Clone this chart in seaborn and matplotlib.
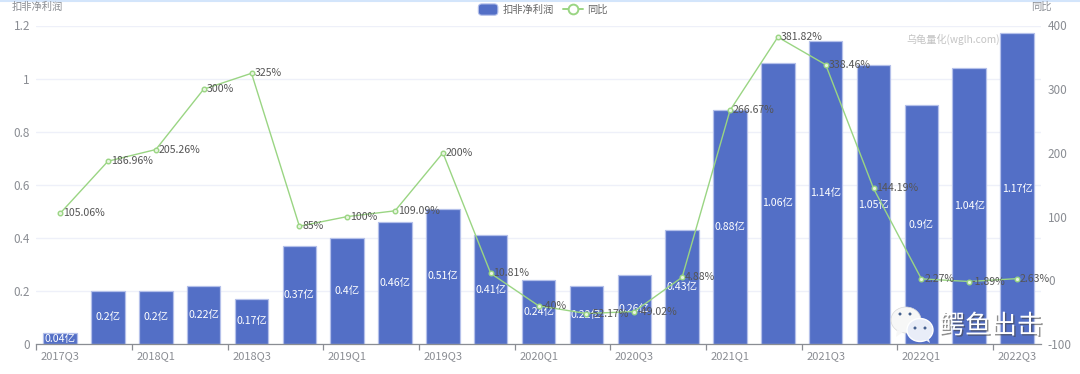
import matplotlib
matplotlib.use("Agg")
import matplotlib.pyplot as plt
import matplotlib.patheffects as pe
from matplotlib.legend_handler import HandlerPatch
from matplotlib.lines import Line2D
from matplotlib.patches import Ellipse, FancyBboxPatch, Patch, Polygon
import pandas as pd
import seaborn as sns

quarters = ["2017Q3", "2017Q4", "2018Q1", "2018Q2", "2018Q3", "2018Q4", "2019Q1",
            "2019Q2", "2019Q3", "2019Q4", "2020Q1", "2020Q2", "2020Q3", "2020Q4",
            "2021Q1", "2021Q2", "2021Q3", "2021Q4", "2022Q1", "2022Q2", "2022Q3"]
profit = [0.04, 0.2, 0.2, 0.22, 0.17, 0.37, 0.4, 0.46, 0.51, 0.41, 0.24,
          0.22, 0.26, 0.43, 0.88, 1.06, 1.14, 1.05, 0.9, 1.04, 1.17]
yoy = [105.06, 186.96, 205.26, 300, 325, 85, 100, 109.09, 200, 10.81, -40,
       -52.17, -49.02, 4.88, 266.67, 381.82, 338.46, 144.19, 2.27, -1.89, 2.63]
left_ticks = [0, 0.2, 0.4, 0.6, 0.8, 1, 1.2]
right_ticks = [-100, 0, 100, 200, 300, 400]

BLUE = "#536fc6"
GREEN = "#9ad583"
GREY = "#8a8d93"

sns.set_theme(style="white")
plt.rcParams["font.family"] = ["Noto Sans CJK SC", "DejaVu Sans"]

df = pd.DataFrame({"quarter": quarters, "profit": profit, "yoy": yoy})

W, H = 1080, 374
fig = plt.figure(figsize=(W / 100, H / 100), dpi=100)
ax = fig.add_axes([36.2 / W, 1 - 344 / H, (1041 - 36.2) / W, (344 - 25.5) / H])

sns.barplot(data=df, x="quarter", y="profit", color=BLUE, saturation=1, width=0.7,
            edgecolor="#b4c0ea", linewidth=0.9, ax=ax, zorder=2)
ax.set_xlim(-0.5, len(quarters) - 0.5)
ax.set_ylim(0, 1.2)
ax.set_yticks(left_ticks)
ax.set_yticklabels([f"{t:g}" for t in left_ticks])
ax.set_xlabel("")
ax.set_ylabel("")
ax.grid(axis="y", color="#eef0f9", lw=1)
ax.set_axisbelow(True)
sns.despine(ax=ax, left=True, right=True, top=True)
ax.spines["bottom"].set_color(GREY)
ax.spines["bottom"].set_linewidth(0.9)

# labels every other quarter, ticks on the band edges
ax.set_xticks(range(0, len(quarters), 2))
ax.set_xticklabels(quarters[::2])
ax.set_xticks([i - 0.5 for i in range(0, len(quarters) + 1, 2)], minor=True)
ax.tick_params(axis="x", which="major", length=0, pad=5, labelsize=8, labelcolor=GREY)
ax.tick_params(axis="x", which="minor", length=4, width=0.9, color=GREY, bottom=True)
ax.tick_params(axis="y", length=0, pad=4.5, labelsize=8.5, labelcolor=GREY)

for i, v in enumerate(profit):
    ax.text(i, v / 2, f"{v:g}亿", color="white", fontsize=7.6, ha="center", va="center", zorder=3)

ax2 = ax.twinx()
sns.lineplot(data=df, x="quarter", y="yoy", color=GREEN, linewidth=1, marker="o",
             markersize=3.3, markerfacecolor="#e8f5e0", markeredgecolor=GREEN,
             markeredgewidth=1, ax=ax2, sort=False, zorder=5)
ax2.set_ylim(-100, 400)
ax2.set_yticks(right_ticks)
ax2.set_yticklabels([f"{t:g}" for t in right_ticks])
ax2.set_ylabel("")
ax2.set_xlabel("")
ax2.tick_params(axis="y", length=0, pad=5, labelsize=8.5, labelcolor=GREY)
ax2.grid(False)
for s in ax2.spines.values():
    s.set_visible(False)

for i, v in enumerate(yoy):
    ax2.annotate(f"{v:g}%", (i, v), xytext=(2, 0), textcoords="offset points",
                 fontsize=7.6, color="#555555", ha="left", va="center", zorder=6)

fig.text(12 / W, 1 - 7 / H, "扣非净利润", fontsize=7.4, color=GREY, ha="left", va="center")
fig.text(1041 / W, 1 - 7 / H, "同比", fontsize=7.4, color=GREY, ha="center", va="center")
fig.text(1000 / W, 1 - 39 / H, "乌龟量化(wglh.com)", fontsize=7.3, color="#c4c4c4", ha="right", va="center", zorder=7)


class RoundHandler(HandlerPatch):
    def create_artists(self, legend, orig, xd, yd, width, height, fontsize, trans):
        p = FancyBboxPatch((-xd, -yd - 1), width, height + 2, boxstyle="round,pad=0,rounding_size=2.5",
                           facecolor=orig.get_facecolor(), edgecolor=orig.get_edgecolor(), lw=0.8, transform=trans)
        return [p]


bar_handle = Patch(facecolor=BLUE, edgecolor="#b4c0ea", label="扣非净利润")
line_handle = Line2D([0], [0], color=GREEN, lw=1.4, marker="o", markersize=7, markerfacecolor="white",
                     markeredgecolor=GREEN, markeredgewidth=1.4, label="同比")
fig.legend(handles=[bar_handle, line_handle], handler_map={Patch: RoundHandler()}, loc="center",
           bbox_to_anchor=(543 / W, 1 - 10 / H), ncols=2, frameon=False, fontsize=7.4,
           labelcolor="#666666", handlelength=1.9, handleheight=0.9, columnspacing=0.9,
           handletextpad=0.45, borderpad=0)

# top edge of the screenshot
fig.add_artist(Line2D([0, 1], [1 - 0.5 / H, 1 - 0.5 / H], color="#d3e5fb", lw=1.5, transform=fig.transFigure))


# wechat style badge
def px_ellipse(cx, cy, w, h, **kw):
    fig.add_artist(Ellipse((cx / W, 1 - cy / H), w / W, h / H, transform=fig.transFigure, **kw))


px_ellipse(906, 320, 30, 26, facecolor="#f7f7f7", edgecolor="#d8d8d8", lw=0.5, zorder=8)
fig.add_artist(Polygon([(897 / W, 1 - 330 / H), (896 / W, 1 - 337 / H), (903 / W, 1 - 332 / H)],
                       transform=fig.transFigure, facecolor="#f7f7f7", edgecolor="none", zorder=8))
px_ellipse(920, 330, 26, 23, facecolor="#e9edf8", edgecolor="#ffffff", lw=1, zorder=9)
fig.add_artist(Polygon([(924 / W, 1 - 339 / H), (930 / W, 1 - 343 / H), (928 / W, 1 - 336 / H)],
                       transform=fig.transFigure, facecolor="#e9edf8", edgecolor="none", zorder=9))
for cx, cy in [(900, 314), (910, 314), (915, 328), (925, 328)]:
    px_ellipse(cx, cy, 3, 3, facecolor="#46618f", edgecolor="none", zorder=10)

fig.text(991 / W, 1 - 326 / H, "鳄鱼出击", fontsize=18.7, color="white", ha="center", va="center", zorder=10,
         path_effects=[pe.withSimplePatchShadow(offset=(1, -1), shadow_rgbFace="#444444", alpha=0.6)])

fig.savefig("out.png", dpi=100, facecolor="white")
